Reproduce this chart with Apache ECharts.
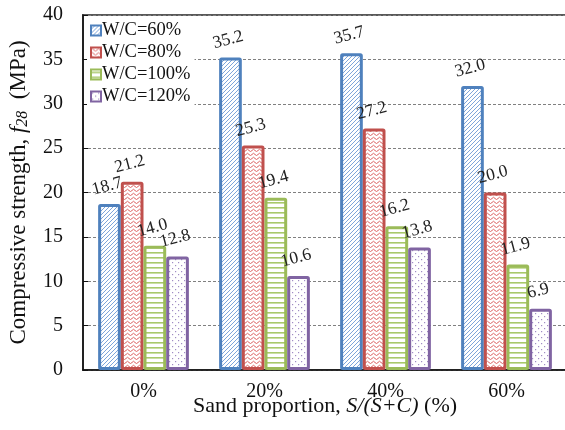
<!DOCTYPE html>
<html><head><meta charset="utf-8">
<script src="https://cdn.jsdelivr.net/npm/echarts@6/dist/echarts.min.js"></script>
<style>html,body{margin:0;padding:0;background:#fff}#c{width:565px;height:430px}</style>
</head><body><div id="c"></div>
<script>
const categories = ['0%', '20%', '40%', '60%'];
const seriesNames = ['W/C=60%', 'W/C=80%', 'W/C=100%', 'W/C=120%'];
const wc60 = [18.7, 35.2, 35.7, 32.0];
const wc80 = [21.2, 25.3, 27.2, 20.0];
const wc100 = [14.0, 19.4, 16.2, 11.9];
const wc120 = [12.8, 10.6, 13.8, 6.9];
const yTicks = [0, 40, 5];

const FONT = '"Liberation Serif", "DejaVu Serif", serif';
function pat(w, h, draw) {
  const c = document.createElement('canvas');
  c.width = w; c.height = h;
  const ctx = c.getContext('2d');
  ctx.fillStyle = '#fff'; ctx.fillRect(0, 0, w, h);
  draw(ctx);
  return { image: c, repeat: 'repeat' };
}
const blueFill = pat(4, 4, ctx => {
  ctx.strokeStyle = '#6F9BD6'; ctx.lineWidth = 0.9;
  ctx.beginPath();
  ctx.moveTo(-1, 5); ctx.lineTo(5, -1);
  ctx.moveTo(-1, 1); ctx.lineTo(1, -1);
  ctx.moveTo(3, 5); ctx.lineTo(5, 3);
  ctx.stroke();
});
const redFill = pat(6, 4, ctx => {
  ctx.strokeStyle = '#DB6262'; ctx.lineWidth = 1;
  ctx.beginPath();
  ctx.moveTo(0, 2.5); ctx.quadraticCurveTo(1.5, 0, 3, 2.5); ctx.quadraticCurveTo(4.5, 4.5, 6, 2.5);
  ctx.stroke();
});
const greenFill = pat(4, 5, ctx => {
  ctx.fillStyle = '#A9C96B'; ctx.fillRect(0, 2, 4, 1.6);
});
const purpleFill = pat(6, 6, ctx => {
  ctx.fillStyle = '#A08CC4';
  ctx.fillRect(1, 1, 1.2, 1.2); ctx.fillRect(4, 4, 1.2, 1.2);
});

const colors = ['#4F81BD', '#C0504D', '#9BBB59', '#8064A2'];
const fills = [blueFill, redFill, greenFill, purpleFill];
const data = [wc60, wc80, wc100, wc120];

const chart = echarts.init(document.getElementById('c'), null, { renderer: 'canvas' });
chart.setOption({
  animation: false,
  backgroundColor: '#fff',
  textStyle: { fontFamily: FONT, color: '#111' },
  grid: { left: 83, right: -2, top: 15, bottom: 60, outerBoundsMode: 'none', containLabel: false,
    show: true, borderColor: '#595959', borderWidth: 2, backgroundColor: 'transparent' },
  legend: {
    orient: 'vertical', left: 87, top: 19, itemGap: 3, itemWidth: 10, itemHeight: 10,
    backgroundColor: '#fff', padding: [2, 4, 2, 3],
    icon: 'rect',
    textStyle: { fontFamily: FONT, fontSize: 18.5, color: '#111', padding: [0, 0, 0, -4] },
    data: seriesNames
  },
  xAxis: {
    type: 'category', data: categories,
    axisLine: { lineStyle: { color: '#111', width: 1.5 } },
    axisTick: { inside: true, length: 5, lineStyle: { color: '#111' } },
    axisLabel: { fontFamily: FONT, fontSize: 20, color: '#111', margin: 12 },
    name: '{n|Sand proportion, }{i|S/(S+C)}{n| (%)}',
    nameLocation: 'middle', nameGap: 26, nameMoveOverlap: false,
    nameTextStyle: {
      lineHeight: 20,
      rich: {
        n: { fontFamily: FONT, fontSize: 22, color: '#111', lineHeight: 20 },
        i: { fontFamily: FONT, fontSize: 22, color: '#111', fontStyle: 'italic', lineHeight: 20 }
      }
    }
  },
  yAxis: {
    type: 'value', min: yTicks[0], max: yTicks[1], interval: yTicks[2],
    axisLine: { show: true, lineStyle: { color: '#111', width: 1.5 } },
    axisTick: { show: true, inside: true, length: 5, lineStyle: { color: '#111' } },
    splitLine: { show: true, lineStyle: { color: '#808080', type: [3, 2], width: 1 } },
    axisLabel: { fontFamily: FONT, fontSize: 20, color: '#111', margin: 20 },
    name: '{n|Compressive strength, }{i|f}{s|28}{n|  (MPa)}',
    nameLocation: 'middle', nameGap: 52, nameRotate: 90, nameMoveOverlap: false,
    nameTextStyle: {
      rich: {
        n: { fontFamily: FONT, fontSize: 23, color: '#111' },
        i: { fontFamily: FONT, fontSize: 23, color: '#111', fontStyle: 'italic' },
        s: { fontFamily: FONT, fontSize: 16, color: '#111', fontStyle: 'italic', verticalAlign: 'bottom', padding: [8, 0, 0, 0] }
      }
    }
  },
  series: seriesNames.map((n, i) => ({
    name: n, type: 'bar', data: data[i],
    barGap: '0%', barCategoryGap: '25%',
    itemStyle: { color: fills[i], borderColor: colors[i], borderWidth: 3, borderRadius: 1 },
    label: {
      show: true, position: 'top', rotate: 15, distance: 9,
      fontFamily: FONT, fontSize: 17.5, color: '#222',
      formatter: p => Number(p.value).toFixed(1)
    }
  }))
});
</script></body></html>
